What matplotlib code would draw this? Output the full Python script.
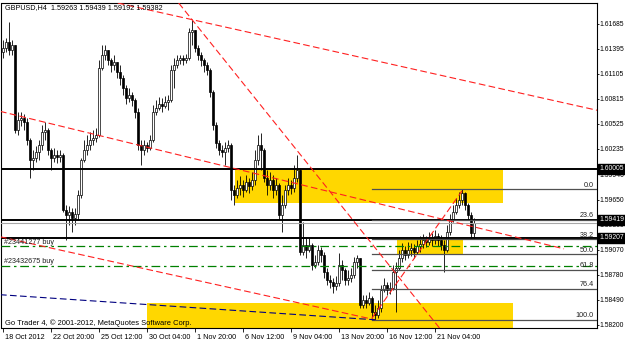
import matplotlib
matplotlib.use("Agg")
import matplotlib.pyplot as plt
from matplotlib.patches import Rectangle
import matplotlib.transforms as mtransforms

plt.rcParams['font.family'] = ['Liberation Sans', 'DejaVu Sans']

title_text = "GBPUSD,H4  1.59263 1.59439 1.59192 1.59382"
copyright_text = "Go Trader 4, \u00a9 2001-2012, MetaQuotes Software Corp."

first_open = 1.6135
closes = [
    1.6140, 1.6147, 1.6138, 1.6144, 1.6045, 1.6057, 1.6059, 1.6055, 1.6034, 1.6011,
    1.6013, 1.6020, 1.6028, 1.6043, 1.6045, 1.6022, 1.6013, 1.6017, 1.6014, 1.6017,
    1.5953, 1.5947, 1.5951, 1.5944, 1.5948, 1.5970, 1.6011, 1.6022, 1.6028, 1.6034,
    1.6036, 1.6040, 1.6117, 1.6132, 1.6138, 1.6126, 1.6121, 1.6124, 1.6112, 1.6106,
    1.6094, 1.6082, 1.6086, 1.6080, 1.6066, 1.6028, 1.6022, 1.6028, 1.6025, 1.6034,
    1.6066, 1.6071, 1.6075, 1.6073, 1.6078, 1.6080, 1.6115, 1.6121, 1.6126, 1.6129,
    1.6126, 1.6129, 1.6159, 1.6161, 1.6140, 1.6132, 1.6126, 1.6121, 1.6115, 1.6089,
    1.6051, 1.6030, 1.6022, 1.6020, 1.6025, 1.6028, 1.5976, 1.5970, 1.5978, 1.5982,
    1.5976, 1.5985, 1.5981, 1.5988, 1.6011, 1.6028, 1.6022, 1.5990, 1.5982, 1.5988,
    1.5976, 1.5982, 1.5947, 1.5959, 1.5976, 1.5982, 1.5978, 1.5990, 1.5999, 1.5904,
    1.5912, 1.5907, 1.5912, 1.5889, 1.5893, 1.5907, 1.5901, 1.5881, 1.5872, 1.5870,
    1.5865, 1.5869, 1.5889, 1.5884, 1.5872, 1.5874, 1.5878, 1.5893, 1.5897, 1.5843,
    1.5849, 1.5845, 1.5851, 1.5835, 1.5832, 1.5840, 1.5860, 1.5866, 1.5860, 1.5863,
    1.5881, 1.5886, 1.5897, 1.5907, 1.5901, 1.5907, 1.5909, 1.5904, 1.5911, 1.5914,
    1.5918, 1.5916, 1.5921, 1.5918, 1.5923, 1.5918, 1.5912, 1.5907, 1.5927, 1.5941,
    1.5951, 1.5959, 1.5964, 1.5973, 1.5959, 1.5947, 1.59263, 1.59382,
]
highs = [
    1.6149, 1.6152, 1.6170, 1.6149, 1.6144, 1.6066, 1.6066, 1.6064, 1.6059, 1.6036,
    1.6022, 1.6027, 1.6034, 1.6051, 1.6055, 1.6048, 1.6025, 1.6025, 1.6022, 1.6022,
    1.6019, 1.5959, 1.5958, 1.5955, 1.5955, 1.5976, 1.6013, 1.6034, 1.6040, 1.6043,
    1.6045, 1.6048, 1.6126, 1.6144, 1.6144, 1.6136, 1.6129, 1.6132, 1.6124, 1.6121,
    1.6109, 1.6097, 1.6094, 1.6089, 1.6082, 1.6071, 1.6034, 1.6034, 1.6032, 1.6040,
    1.6074, 1.6080, 1.6084, 1.6082, 1.6085, 1.6086, 1.6121, 1.6129, 1.6132, 1.6132,
    1.6132, 1.6133, 1.6163, 1.6173, 1.6161, 1.6144, 1.6136, 1.6129, 1.6124, 1.6117,
    1.6092, 1.6055, 1.6034, 1.6028, 1.6032, 1.6034, 1.6030, 1.5982, 1.5988, 1.5992,
    1.5988, 1.5993, 1.5990, 1.5997, 1.6022, 1.6040, 1.6042, 1.6025, 1.5999, 1.5997,
    1.5993, 1.5990, 1.5984, 1.5970, 1.5982, 1.5990, 1.5988, 1.6005, 1.6017, 1.6002,
    1.5939, 1.5921, 1.5921, 1.5915, 1.5901, 1.5912, 1.5910, 1.5904, 1.5886, 1.5878,
    1.5874, 1.5877, 1.5903, 1.5895, 1.5886, 1.5884, 1.5886, 1.5899, 1.5901, 1.5897,
    1.5855, 1.5855, 1.5858, 1.5853, 1.5843, 1.5849, 1.5866, 1.5874, 1.5870, 1.5870,
    1.5889, 1.5893, 1.5907, 1.5915, 1.5911, 1.5916, 1.5915, 1.5914, 1.5918, 1.5923,
    1.5925, 1.5923, 1.5927, 1.5926, 1.5930, 1.5926, 1.5924, 1.5918, 1.5936, 1.5948,
    1.5959, 1.5967, 1.5974, 1.5977, 1.5974, 1.5961, 1.5951, 1.59439,
]
lows = [
    1.6129, 1.6136, 1.6132, 1.6132, 1.6042, 1.6040, 1.6050, 1.6045, 1.6028, 1.5990,
    1.5999, 1.6008, 1.6011, 1.6022, 1.6034, 1.6017, 1.5999, 1.6008, 1.6007, 1.6008,
    1.5951, 1.5918, 1.5936, 1.5927, 1.5936, 1.5941, 1.5967, 1.6008, 1.6017, 1.6022,
    1.6028, 1.6032, 1.6037, 1.6115, 1.6126, 1.6121, 1.6112, 1.6115, 1.6106, 1.6097,
    1.6086, 1.6075, 1.6078, 1.6073, 1.6059, 1.6022, 1.6005, 1.6017, 1.6020, 1.6022,
    1.6032, 1.6063, 1.6069, 1.6066, 1.6071, 1.6069, 1.6078, 1.6094, 1.6117, 1.6122,
    1.6121, 1.6123, 1.6126, 1.6144, 1.6136, 1.6126, 1.6119, 1.6112, 1.6109, 1.6084,
    1.6045, 1.6025, 1.6017, 1.6014, 1.6005, 1.6020, 1.5964, 1.5959, 1.5967, 1.5970,
    1.5968, 1.5974, 1.5973, 1.5976, 1.5982, 1.6005, 1.5999, 1.5985, 1.5970, 1.5976,
    1.5967, 1.5970, 1.5941, 1.5927, 1.5955, 1.5970, 1.5971, 1.5974, 1.5985, 1.5901,
    1.5901, 1.5897, 1.5904, 1.5884, 1.5886, 1.5889, 1.5893, 1.5874, 1.5866, 1.5863,
    1.5857, 1.5860, 1.5865, 1.5872, 1.5866, 1.5866, 1.5870, 1.5874, 1.5886, 1.5840,
    1.5840, 1.5840, 1.5843, 1.5828, 1.5826, 1.5828, 1.5835, 1.5858, 1.5855, 1.5856,
    1.5860, 1.5835, 1.5884, 1.5893, 1.5895, 1.5897, 1.5900, 1.5897, 1.5902, 1.5904,
    1.5909, 1.5910, 1.5912, 1.5911, 1.5914, 1.5911, 1.5907, 1.5881, 1.5904, 1.5924,
    1.5939, 1.5948, 1.5955, 1.5959, 1.5953, 1.5941, 1.5920, 1.59192,
]

date_ticks = [0, 16, 32, 48, 64, 80, 96, 112, 128, 144]
date_labels = ["18 Oct 2012", "22 Oct 20:00", "25 Oct 12:00", "30 Oct 04:00",
               "1 Nov 20:00", "6 Nov 12:00", "9 Nov 04:00", "13 Nov 20:00",
               "16 Nov 12:00", "21 Nov 04:00"]
price_ticks = [1.58200, 1.58490, 1.58780, 1.59070, 1.59360, 1.59650, 1.59940,
               1.60235, 1.60525, 1.60815, 1.61105, 1.61395, 1.61685]

level_lines = [1.60005, 1.59419, 1.59207]
bid_price = 1.59382
order_names = ["#23441277 buy", "#23432675 buy"]
order_prices = [1.5911, 1.5888]

fib_start_bar = 123
fib_high = 1.5977
fib_low = 1.5826
fib_levels = [0.0, 23.6, 38.2, 50.0, 61.8, 76.4, 100.0]

zone_bars = [(77.3, 166.7), (131.3, 153.3), (48.0, 170.0)]
zone_prices = [(1.5961, 1.60005), (1.5902, 1.5921), (1.5816, 1.5845)]

red_rays = [((63, 1.6173), (197, 1.6069)), ((63, 1.6173), (144, 1.5823))]
red_segments = [((-1, 1.6067), (187, 1.5908)),
                ((-1, 1.5922), (124, 1.5826)),
                ((123, 1.5828), (153, 1.5975))]
blue_segments = [((-1, 1.5855), (124, 1.5826))]

W, H = 625, 341
FS = 4.9
fig = plt.figure(figsize=(W / 100, H / 100), dpi=100)
ax = fig.add_axes([1.5 / W, 13 / H, 595.5 / W, 325 / H])
ax.set_xlim(-0.5, 198)
ax.set_ylim(1.58165, 1.61922)

# zones
for (b0, b1), (p0, p1) in zip(zone_bars, zone_prices):
    ax.add_patch(Rectangle((b0, p0), b1 - b0, p1 - p0, facecolor='#FFD700',
                           edgecolor='none', zorder=1))

# candles
opens = [first_open] + closes[:-1]
for i, (o, h, l, c) in enumerate(zip(opens, highs, lows, closes)):
    hh = max(h, o, c)
    ll = min(l, o, c)
    ax.plot([i, i], [ll, hh], color='black', lw=0.6, zorder=2, solid_capstyle='butt')
    bot = min(o, c)
    ht = max(abs(c - o), 0.00003)
    fc = 'white' if c >= o else 'black'
    ax.add_patch(Rectangle((i - 0.33, bot), 0.66, ht, facecolor=fc,
                           edgecolor='black', lw=0.5, zorder=2.1))

# horizontal lines
for p in level_lines:
    ax.axhline(p, color='black', lw=1.4, zorder=3)
ax.axhline(bid_price, color='#A8A8A8', lw=0.8, zorder=3)
for name, p in zip(order_names, order_prices):
    ax.axhline(p, color='#008000', lw=0.9, ls=(0, (7, 3, 2, 3)), zorder=3)
    ax.text(0.5, p + 0.00008, name, fontsize=5.2, color='#202020',
            ha='left', va='bottom', zorder=4)

# fibonacci
for lvl in fib_levels:
    p = fib_high - (fib_high - fib_low) * lvl / 100.0
    ax.plot([fib_start_bar, 198], [p, p], color='#505050', lw=0.9, zorder=3)
    ax.text(197, p + 0.00006, f"{lvl:.1f}", fontsize=5.2, color='#202020',
            ha='right', va='bottom', zorder=4)

# trend lines
for p1, p2 in red_rays:
    ax.axline(p1, p2, color='#FF2020', lw=0.8, ls=(0, (6, 3)), zorder=3.5)
for p1, p2 in red_segments:
    ax.plot([p1[0], p2[0]], [p1[1], p2[1]], color='#FF2020', lw=0.8,
            ls=(0, (6, 3)), zorder=3.5)
for p1, p2 in blue_segments:
    ax.plot([p1[0], p2[0]], [p1[1], p2[1]], color='#000080', lw=0.8,
            ls=(0, (6, 3)), zorder=3.5)

# axes styling
for s in ax.spines.values():
    s.set_color('black')
    s.set_linewidth(0.8)
ax.yaxis.tick_right()
ax.set_yticks(price_ticks)
ax.set_yticklabels([f"{p:.5f}" for p in price_ticks])
ax.tick_params(axis='y', labelsize=FS, length=1.5, width=0.6, pad=0.6, colors='black')
ax.set_xticks(date_ticks)
ax.set_xticklabels(date_labels, ha='left')
ax.tick_params(axis='x', labelsize=5.2, length=3, width=0.6, pad=1.0, colors='black')
offset = mtransforms.ScaledTranslation(2 / 100, 0, fig.dpi_scale_trans)
for lab in ax.get_xticklabels():
    lab.set_transform(lab.get_transform() + offset)

# price boxes on the right scale
trans = mtransforms.blended_transform_factory(ax.transAxes, ax.transData)
for p in level_lines:
    ax.text(1.0045, p, f"{p:.5f}", transform=trans, ha='left', va='center',
            fontsize=FS, color='white', clip_on=False, zorder=10,
            bbox=dict(boxstyle='square,pad=0.22', facecolor='black', edgecolor='black'))

fig.text(5 / W, 1 - 8 / H, title_text, fontsize=5.2, ha='left', va='center', color='black')
ax.text(0.006, 0.0145, copyright_text, transform=ax.transAxes, fontsize=5.4,
        ha='left', va='center', color='black', zorder=5)

fig.savefig("out.png", dpi=100)
